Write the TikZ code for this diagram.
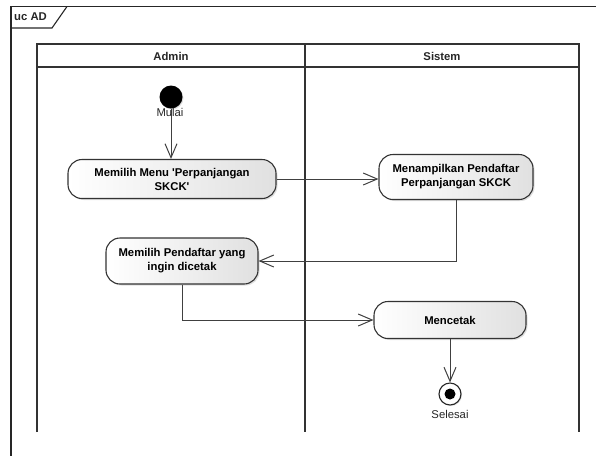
\documentclass[tikz,border=0pt]{standalone}
\usepackage{fontspec}
\setmainfont{Liberation Sans}
\usetikzlibrary{positioning,arrows.meta,shadows}

\tikzset{
	act/.style={draw=black!80, line width=1.1pt, rounded corners=14pt, left color=white, right color=black!12,
		drop shadow={shadow xshift=1.5pt, shadow yshift=-1.5pt, opacity=0.25},
		align=center, inner sep=0pt, font=\fontsize{11.3}{14}\selectfont\bfseries},
	flow/.style={draw=black!75, line width=1pt, -{Straight Barb[length=14pt,width=12pt,line width=1pt]}},
	lane/.style={draw=black!80, line width=1.4pt},
	lbl/.style={inner sep=0pt, text=black!85, font=\fontsize{11.3}{14}\selectfont},
}

\begin{document}
\begin{tikzpicture}[x=1pt, y=-1pt]
		\useasboundingbox (0,0) rectangle (596,456);
		% frame
		\draw[black!85, line width=1.1pt] (596,6.5) -- (11,6.5) -- (11,456);
		\draw[black!85, line width=1.1pt] (67,6.5) -- (52,28) -- (11,28);
		\node[lbl, font=\fontsize{11.3}{14}\selectfont\bfseries, anchor=west] (title) at (14,17) {uc AD};
		% lanes
		\draw[lane] (37,432) -- (37,44) -- (579,44) -- (579,432);
		\draw[lane] (37,67) -- (579,67);
		\draw[lane] (305,44) -- (305,432);
		\node[lbl, font=\fontsize{11.3}{14}\selectfont\bfseries] (admin) at (171,56) {Admin};
		\node[lbl, font=\fontsize{11.3}{14}\selectfont\bfseries] (sistem) at (442,56) {Sistem};

		\node[circle, fill=black, minimum size=23pt, inner sep=0pt,
			drop shadow={shadow xshift=1pt, shadow yshift=-1pt, opacity=0.25}] (start) at (171,97) {};
		\node[act, minimum width=208pt, minimum height=39pt] (pilihmenu) at (172,179) {Memilih Menu \textquotesingle Perpanjangan\\SKCK\textquotesingle};
		\node[act, minimum width=154pt, minimum height=45pt] (tampil) at (456,177) {Menampilkan Pendaftar\\Perpanjangan SKCK};
		\node[act, minimum width=152pt, minimum height=46pt] (pilihdaftar) at (182,261) {Memilih Pendaftar yang\\ingin dicetak};
		\node[act, minimum width=152pt, minimum height=37pt] (cetak) at (450,320) {Mencetak};
		\node[circle, draw=black!85, line width=1.1pt, fill=white, minimum size=22pt, inner sep=0pt,
			drop shadow={shadow xshift=1pt, shadow yshift=-1pt, opacity=0.25}] (selesai) at (450,394) {};
		\fill[black] (selesai.center) circle (5.5pt);

		\draw[flow] (start) -- (start |- pilihmenu.north);
		\node[lbl] (mulai) at (170,112) {Mulai};
		\draw[flow] (pilihmenu.east) -- (tampil.west |- pilihmenu.east);
		\draw[flow] (tampil.south) |- (pilihdaftar.east);
		\draw[flow] (pilihdaftar.south) |- (cetak.west);
		\draw[flow] (cetak.south) -- (selesai.north);
		\node[lbl] (lblselesai) at (450,414) {Selesai};
	\end{tikzpicture}
\end{document}
